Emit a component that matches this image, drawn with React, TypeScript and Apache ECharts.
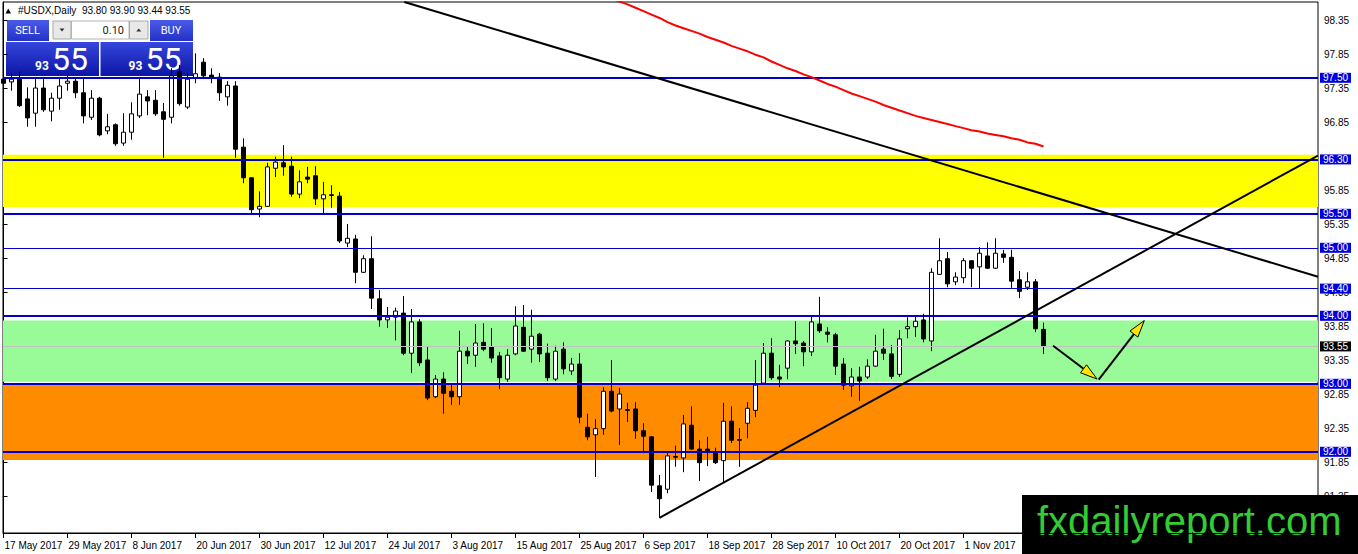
import React, { useEffect, useRef } from 'react';
import * as echarts from 'echarts';

// date labels, one every 8 daily bars (first bar = 17 May 2017)
const dateLabels = [
  '17 May 2017', '29 May 2017', '8 Jun 2017', '20 Jun 2017', '30 Jun 2017',
  '12 Jul 2017', '24 Jul 2017', '3 Aug 2017', '15 Aug 2017', '25 Aug 2017',
  '6 Sep 2017', '18 Sep 2017', '28 Sep 2017', '10 Oct 2017', '20 Oct 2017',
  '1 Nov 2017',
];
const barsPerLabel = 8;

const opens = [
  97.48, 97.44, 97.48, 97.19, 96.98, 97.35, 97.01, 97.20, 97.42, 97.45,
  97.28, 96.92, 97.20, 96.72, 96.81, 96.54, 96.70, 96.94, 97.22, 97.17,
  97.00, 96.92, 97.59, 97.07, 97.50, 97.73, 97.54, 97.51, 97.22, 97.38,
  96.48, 96.03, 95.57, 95.61, 96.17, 96.25, 96.20, 95.79, 96.04, 96.06,
  95.72, 95.78, 95.76, 95.07, 95.13, 94.64, 94.84, 94.25, 93.94, 93.98,
  94.04, 93.45, 93.91, 93.35, 92.81, 93.07, 92.89, 92.81, 93.48, 93.42,
  93.61, 93.54, 93.41, 93.07, 93.44, 93.83, 93.51, 93.73, 93.45, 93.07,
  93.51, 93.19, 93.29, 92.36, 92.25, 92.34, 92.89, 92.63, 92.62, 92.63,
  92.31, 92.22, 91.50, 91.45, 91.93, 91.91, 92.39, 92.04, 92.04, 92.00,
  91.87, 92.45, 92.18, 92.42, 92.61, 93.01, 93.45, 93.10, 93.23, 93.63,
  93.60, 93.47, 93.88, 93.76, 93.72, 93.29, 92.97, 93.10, 93.10, 93.26,
  93.51, 93.44, 93.14, 93.81, 93.84, 93.94, 93.63, 94.61, 94.84, 94.50,
  94.56, 94.81, 94.72, 94.88, 94.70, 94.91, 94.86, 94.53, 94.42, 94.50,
  93.80,
];
const highs = [
  97.54, 97.56, 97.59, 97.36, 97.48, 97.48, 97.28, 97.48, 97.53, 97.51,
  97.48, 97.32, 97.22, 96.97, 96.83, 96.98, 97.14, 97.48, 97.32, 97.32,
  97.13, 97.64, 97.69, 97.56, 97.86, 97.79, 97.64, 97.57, 97.45, 97.45,
  96.61, 96.04, 95.83, 96.25, 96.34, 96.51, 96.34, 96.14, 96.19, 96.20,
  95.97, 95.92, 95.82, 95.35, 95.19, 94.89, 95.17, 94.38, 94.13, 94.12,
  94.29, 94.10, 93.95, 93.54, 93.13, 93.17, 93.01, 93.78, 93.54, 93.88,
  93.89, 93.82, 93.47, 93.51, 94.14, 94.16, 94.09, 93.75, 93.59, 93.56,
  93.61, 93.38, 93.45, 92.56, 92.48, 92.95, 93.35, 92.94, 92.72, 92.73,
  92.42, 92.23, 91.66, 92.00, 92.09, 92.54, 92.67, 92.17, 92.22, 92.06,
  92.72, 92.67, 92.35, 92.73, 93.35, 93.60, 93.67, 93.28, 93.64, 93.92,
  93.63, 94.01, 94.28, 93.83, 93.75, 93.38, 93.23, 93.25, 93.36, 93.72,
  93.81, 93.57, 93.79, 93.98, 94.01, 94.03, 94.70, 95.14, 94.94, 94.64,
  94.85, 94.82, 95.01, 95.08, 95.14, 94.97, 94.97, 94.66, 94.64, 94.54,
  93.90,
];
const lows = [
  97.38, 97.31, 97.07, 96.78, 96.78, 97.00, 96.86, 97.03, 97.31, 97.20,
  96.83, 96.88, 96.64, 96.67, 96.50, 96.50, 96.59, 96.91, 96.95, 96.94,
  96.32, 96.83, 97.09, 97.04, 97.42, 97.51, 97.42, 97.16, 97.09, 96.32,
  95.95, 95.51, 95.45, 95.60, 96.04, 96.06, 95.75, 95.73, 95.95, 95.63,
  95.51, 95.59, 95.07, 95.01, 94.48, 94.63, 94.10, 93.84, 93.82, 93.64,
  93.42, 93.16, 93.26, 92.76, 92.79, 92.56, 92.69, 92.69, 93.29, 93.25,
  93.48, 93.31, 92.92, 93.03, 93.42, 93.47, 93.31, 93.32, 93.04, 93.04,
  93.14, 93.13, 92.42, 92.17, 91.63, 92.25, 92.58, 92.10, 92.44, 92.19,
  91.98, 91.41, 91.03, 91.39, 91.78, 91.70, 92.03, 91.57, 91.79, 91.82,
  91.54, 92.13, 91.78, 92.20, 92.51, 92.99, 93.06, 92.95, 93.07, 93.44,
  93.26, 93.41, 93.75, 93.61, 93.13, 92.91, 92.81, 92.75, 93.07, 93.25,
  93.35, 93.07, 93.10, 93.67, 93.69, 93.61, 93.48, 94.60, 94.42, 94.45,
  94.48, 94.42, 94.41, 94.69, 94.69, 94.78, 94.41, 94.26, 94.38, 93.76,
  93.44,
];
const closes = [
  97.42, 97.48, 97.09, 96.91, 97.35, 97.03, 97.20, 97.38, 97.45, 97.28,
  96.94, 97.20, 96.66, 96.78, 96.53, 96.70, 96.97, 97.26, 97.16, 96.97,
  96.89, 97.53, 97.12, 97.48, 97.56, 97.53, 97.51, 97.28, 97.39, 96.45,
  96.03, 95.56, 95.61, 96.19, 96.26, 96.19, 95.79, 95.97, 96.01, 95.72,
  95.78, 95.77, 95.10, 95.14, 94.64, 94.84, 94.26, 93.94, 93.98, 94.07,
  93.45, 93.91, 93.31, 92.79, 93.07, 92.86, 92.81, 93.48, 93.41, 93.60,
  93.51, 93.38, 93.09, 93.42, 93.85, 93.48, 93.70, 93.44, 93.09, 93.48,
  93.22, 93.29, 92.51, 92.22, 92.34, 92.89, 92.60, 92.85, 92.61, 92.31,
  92.23, 91.51, 91.31, 91.94, 91.92, 92.41, 92.04, 91.84, 92.01, 91.84,
  92.45, 92.17, 92.17, 92.64, 92.98, 93.45, 93.09, 93.07, 93.63, 93.59,
  93.47, 93.91, 93.78, 93.73, 93.26, 92.98, 93.10, 93.04, 93.26, 93.48,
  93.45, 93.11, 93.66, 93.84, 93.92, 93.66, 94.64, 94.81, 94.47, 94.57,
  94.81, 94.70, 94.92, 94.70, 94.92, 94.86, 94.51, 94.36, 94.50, 93.81,
  93.55,
];

// red moving average, starting at bar 76
const maStart = 76;
const maValues = [
  98.67, 98.62, 98.58, 98.53, 98.48, 98.43, 98.38, 98.32, 98.27, 98.23,
  98.19, 98.15, 98.10, 98.06, 98.02, 97.97, 97.93, 97.89, 97.84, 97.80,
  97.74, 97.69, 97.64, 97.60, 97.55, 97.51, 97.46, 97.41, 97.37, 97.32,
  97.27, 97.23, 97.19, 97.15, 97.10, 97.06, 97.02, 96.98, 96.94, 96.91,
  96.88, 96.85, 96.82, 96.79, 96.76, 96.73, 96.71, 96.68, 96.66, 96.64,
  96.61, 96.59, 96.55, 96.53, 96.49,
];

// trend lines: [bar, price] anchors
const downTrend = [[50.1, 98.616], [164.31, 94.575]];
const upTrend = [[82, 91.03], [164.31, 96.357]];

// forecast arrows: [fromBar, fromPrice, toBar, toPrice]
const arrows = [
  [131.2, 93.56, 136.7, 93.07],
  [136.9, 93.06, 142.6, 93.93],
];

const thickLevels = [97.5, 96.3, 95.5, 94.0, 93.0, 92.0];
const thinLevels = [95.0, 94.4];
const bidPrice = 93.55;

const yellowZone = [95.60, 96.37];
const greenZone = [93.03, 93.93];
const orangeZone = [91.88, 92.99];

const priceTicks = [
  91.35, 91.85, 92.35, 92.85, 93.35, 93.85, 94.35, 94.85,
  95.35, 95.85, 96.35, 96.85, 97.35, 97.85, 98.35,
];
// 96.35 sits fully under the 96.30 level box, so it has no visible label
const priceLabels = priceTicks.filter((v) => v !== 96.35);

const yMin = 90.806;
const yMax = 98.615;
const xMin = -0.0625;
const xMax = 164.3125;

const axisFont = "'Liberation Sans', Arial, sans-serif";
const uiFont = "Roboto, 'Liberation Sans', sans-serif";
const levelBlue = '#0000c8';

const btnFill = () =>
  new echarts.graphic.LinearGradient(0, 0, 0, 1, [
    { offset: 0, color: '#4a5ae8' },
    { offset: 1, color: '#2232c8' },
  ]);
const priceFill = () =>
  new echarts.graphic.LinearGradient(0, 0, 0, 1, [
    { offset: 0, color: '#3646dc' },
    { offset: 1, color: '#0c16a6' },
  ]);

const buildOption = (): any => {
  const candleData = opens.map((o, i) => [i, o, closes[i], lows[i], highs[i]]);
  const maData = maValues.map((v, k) => [maStart + k, v]);
  const labelIdx = dateLabels.map((_, k) => k * barsPerLabel);
  const boxValues = [...thickLevels, ...thinLevels, bidPrice];

  const levelLines = [
    ...thickLevels.map((v) => ({ yAxis: v, lineStyle: { color: levelBlue, width: 2, type: 'solid' } })),
    ...thinLevels.map((v) => ({ yAxis: v, lineStyle: { color: levelBlue, width: 1, type: 'solid' } })),
    { yAxis: bidPrice, lineStyle: { color: '#c0c0c0', width: 1, type: 'solid' } },
  ];

  const zoneArea = (z: number[], color: string) => [
    { yAxis: z[1], itemStyle: { color, opacity: 1 } },
    { yAxis: z[0] },
  ];

  return {
    animation: false,
    backgroundColor: '#ffffff',
    grid: {
      left: 3,
      right: 40,
      top: 2,
      bottom: 21,
      show: true,
      borderColor: '#000',
      borderWidth: 1,
      backgroundColor: '#fff',
      outerBoundsMode: 'none',
    },
    xAxis: {
      type: 'value',
      min: xMin,
      max: xMax,
      axisLine: { show: true, lineStyle: { color: '#000', width: 1 } },
      axisTick: { show: true, length: 5, customValues: labelIdx, lineStyle: { color: '#000' } },
      axisLabel: {
        customValues: labelIdx,
        formatter: (v: number) => dateLabels[Math.round(v / barsPerLabel)] ?? '',
        align: 'left',
        margin: 7,
        padding: [0, 0, 0, 1],
        fontSize: 10,
        color: '#000',
        fontFamily: axisFont,
        hideOverlap: false,
      },
      splitLine: { show: false },
    },
    yAxis: [
      {
        type: 'value',
        position: 'right',
        min: yMin,
        max: yMax,
        axisLine: { show: true, lineStyle: { color: '#000', width: 1 } },
        axisTick: { show: true, length: 4, customValues: priceTicks, lineStyle: { color: '#000' } },
        axisLabel: {
          customValues: priceLabels,
          formatter: (v: number) => v.toFixed(2),
          margin: 6,
          fontSize: 10,
          color: '#000',
          fontFamily: axisFont,
          hideOverlap: false,
        },
        splitLine: { show: false },
      },
      {
        type: 'value',
        position: 'right',
        min: yMin,
        max: yMax,
        axisLine: { show: false },
        axisTick: { show: false },
        splitLine: { show: false },
        axisLabel: {
          customValues: boxValues,
          margin: 2,
          hideOverlap: false,
          formatter: (v: number) =>
            Math.abs(v - bidPrice) < 1e-6 ? `{k|${v.toFixed(2)}}` : `{b|${v.toFixed(2)}}`,
          rich: {
            b: {
              backgroundColor: '#0000dd',
              color: '#fff',
              fontSize: 10,
              fontFamily: axisFont,
              lineHeight: 11,
              padding: [0, 3, 0, 3],
            },
            k: {
              backgroundColor: '#000',
              color: '#fff',
              fontSize: 10,
              fontFamily: axisFont,
              lineHeight: 11,
              padding: [0, 3, 0, 3],
            },
          },
        },
      },
    ],
    series: [
      {
        type: 'candlestick',
        data: candleData,
        barWidth: 5,
        z: 2,
        itemStyle: {
          color: '#ffffff',
          color0: '#000000',
          borderColor: '#000000',
          borderColor0: '#000000',
          borderWidth: 1,
        },
        markArea: {
          silent: true,
          z: 1,
          data: [
            zoneArea(yellowZone, '#ffff00'),
            zoneArea(greenZone, '#98fb98'),
            zoneArea(orangeZone, '#ff8c00'),
          ],
        },
        markLine: {
          silent: true,
          z: 5,
          symbol: ['none', 'none'],
          label: { show: false },
          lineStyle: { type: 'solid' },
          data: levelLines,
        },
      },
      {
        type: 'line',
        data: maData,
        symbol: 'none',
        showSymbol: false,
        z: 6,
        silent: true,
        lineStyle: { color: '#ff0000', width: 2 },
      },
      {
        type: 'line',
        data: downTrend,
        symbol: 'none',
        showSymbol: false,
        z: 6,
        silent: true,
        lineStyle: { color: '#000', width: 2 },
      },
      {
        type: 'line',
        data: upTrend,
        symbol: 'none',
        showSymbol: false,
        z: 6,
        silent: true,
        lineStyle: { color: '#000', width: 2 },
      },
      {
        type: 'custom',
        data: arrows,
        z: 7,
        silent: true,
        encode: { x: [0, 2], y: [1, 3] },
        renderItem: (_params: any, api: any) => {
          const a = api.coord([api.value(0), api.value(1)]);
          const b = api.coord([api.value(2), api.value(3)]);
          const dx = b[0] - a[0];
          const dy = b[1] - a[1];
          const len = Math.hypot(dx, dy) || 1;
          const ux = dx / len;
          const uy = dy / len;
          const headLen = 17;
          const headHalf = 5;
          const bx = b[0] - ux * headLen;
          const by = b[1] - uy * headLen;
          return {
            type: 'group',
            children: [
              {
                type: 'line',
                shape: { x1: a[0], y1: a[1], x2: bx, y2: by },
                style: { stroke: '#000', lineWidth: 2 },
              },
              {
                type: 'polygon',
                shape: {
                  points: [
                    [b[0], b[1]],
                    [bx - uy * headHalf, by + ux * headHalf],
                    [bx + uy * headHalf, by - ux * headHalf],
                  ],
                },
                style: { fill: '#ffe400', stroke: '#000', lineWidth: 1 },
              },
            ],
          };
        },
      },
    ],
    graphic: [
      // title
      {
        type: 'polygon',
        z: 100,
        shape: { points: [[5.5, 13.5], [11, 13.5], [8.25, 8.5]] },
        style: { fill: '#000' },
      },
      {
        type: 'text',
        z: 100,
        x: 18,
        y: 10.5,
        style: {
          text: '#USDX,Daily  93.80 93.90 93.44 93.55',
          fill: '#000',
          font: `10px ${axisFont}`,
          verticalAlign: 'middle',
        },
      },
      // one-click trading panel
      {
        type: 'group',
        z: 100,
        children: [
          { type: 'rect', shape: { x: 5, y: 19, width: 189, height: 58 }, style: { fill: '#fff' } },
          { type: 'rect', shape: { x: 7, y: 20, width: 42, height: 21 }, style: { fill: btnFill() } },
          { type: 'rect', shape: { x: 150, y: 20, width: 43, height: 21 }, style: { fill: btnFill() } },
          { type: 'rect', shape: { x: 6, y: 42, width: 93, height: 34 }, style: { fill: priceFill() } },
          { type: 'rect', shape: { x: 100.5, y: 42, width: 92.5, height: 34 }, style: { fill: priceFill() } },
          {
            type: 'rect',
            shape: { x: 53, y: 21, width: 18, height: 18 },
            style: { fill: '#e8e8e8', stroke: '#a8a8a8', lineWidth: 1 },
          },
          {
            type: 'rect',
            shape: { x: 71.5, y: 21, width: 57.5, height: 18 },
            style: { fill: '#fff', stroke: '#b4b4b4', lineWidth: 1 },
          },
          {
            type: 'rect',
            shape: { x: 129.5, y: 21, width: 18.5, height: 18 },
            style: { fill: '#e8e8e8', stroke: '#a8a8a8', lineWidth: 1 },
          },
          { type: 'polygon', shape: { points: [[59.5, 28.5], [64.5, 28.5], [62, 31.5]] }, style: { fill: '#333' } },
          { type: 'polygon', shape: { points: [[136.25, 31.5], [141.25, 31.5], [138.75, 28.5]] }, style: { fill: '#333' } },
          {
            type: 'text',
            x: 124,
            y: 30.5,
            style: { text: '0.10', fill: '#222', font: `11px ${uiFont}`, align: 'right', verticalAlign: 'middle' },
          },
          {
            type: 'text',
            x: 27.5,
            y: 30.5,
            style: { text: 'SELL', fill: '#fff', font: `11px ${uiFont}`, align: 'center', verticalAlign: 'middle' },
          },
          {
            type: 'text',
            x: 171,
            y: 30.5,
            style: { text: 'BUY', fill: '#fff', font: `11px ${uiFont}`, align: 'center', verticalAlign: 'middle' },
          },
          {
            type: 'text',
            x: 35,
            y: 66,
            style: { text: '93', fill: '#fff', font: `bold 12px ${uiFont}`, verticalAlign: 'middle' },
          },
          {
            type: 'text',
            x: 52,
            y: 58.5,
            style: { text: '55', fill: '#fff', font: `32px ${uiFont}`, verticalAlign: 'middle' },
          },
          {
            type: 'text',
            x: 128.5,
            y: 66,
            style: { text: '93', fill: '#fff', font: `bold 12px ${uiFont}`, verticalAlign: 'middle' },
          },
          {
            type: 'text',
            x: 145.5,
            y: 58.5,
            style: { text: '55', fill: '#fff', font: `32px ${uiFont}`, verticalAlign: 'middle' },
          },
        ],
      },
      // watermark
      {
        type: 'group',
        z: 100,
        children: [
          { type: 'rect', shape: { x: 1022, y: 495, width: 336, height: 59 }, style: { fill: '#000' } },
          {
            type: 'text',
            x: 1037,
            y: 521,
            style: {
              text: 'fxdailyreport.com',
              fill: '#33cc33',
              font: `40px ${axisFont}`,
              verticalAlign: 'middle',
            },
          },
        ],
      },
    ],
  };
};

export default function App() {
  const chartRef = useRef<HTMLDivElement>(null);

  useEffect(() => {
    if (!chartRef.current) return;
    const chart = echarts.init(chartRef.current, undefined, { renderer: 'svg' });
    chart.setOption(buildOption());
    return () => {
      chart.dispose();
    };
  }, []);

  return (
    <div
      ref={chartRef}
      style={{ position: 'absolute', left: 0, top: 0, width: '1358px', height: '554px' }}
    />
  );
}
